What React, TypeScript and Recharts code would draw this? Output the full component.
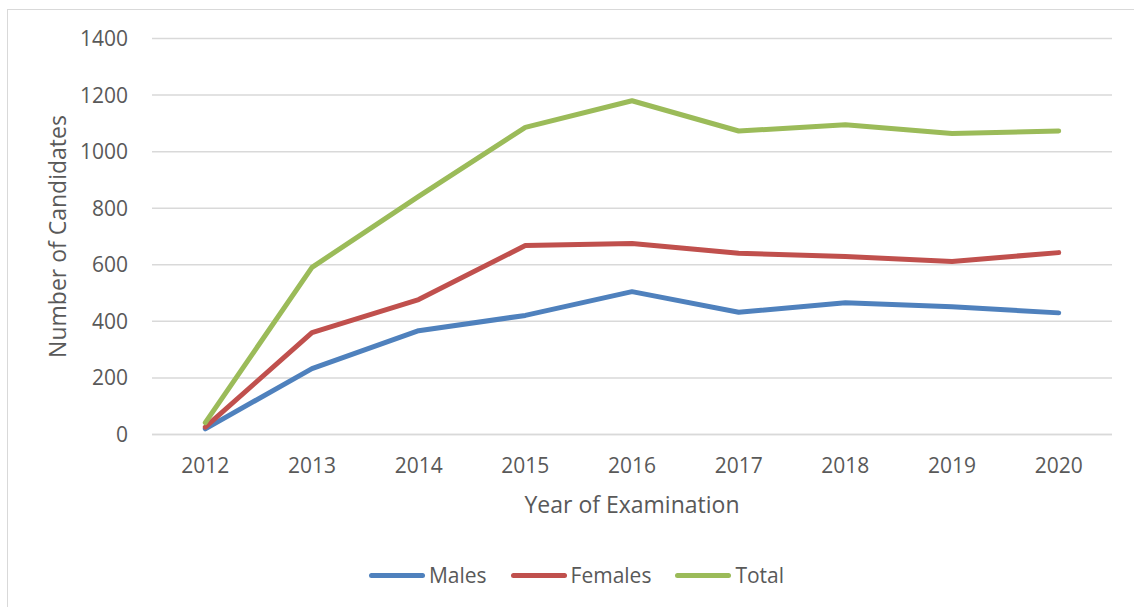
import React from 'react';
import { LineChart, Line, XAxis, YAxis, CartesianGrid, Legend } from 'recharts';

const years = ['2012', '2013', '2014', '2015', '2016', '2017', '2018', '2019', '2020'];
const males = [20, 233, 367, 421, 505, 432, 466, 452, 430];
const females = [26, 360, 477, 668, 675, 641, 629, 612, 643];
const totals = [42, 591, 842, 1086, 1180, 1073, 1095, 1064, 1073];
const yTicks = [0, 200, 400, 600, 800, 1000, 1200, 1400];

const series = [
  { key: 'Males', color: '#4f81bd' },
  { key: 'Females', color: '#c0504d' },
  { key: 'Total', color: '#9bbb59' },
];

const data = years.map((year, i) => ({
  year,
  Males: males[i],
  Females: females[i],
  Total: totals[i],
}));

const FONT = '"Open Sans", sans-serif';
const TEXT = '#595959';

const LegendContent = () => (
  <div style={{ display: 'flex', justifyContent: 'center', gap: 24, paddingLeft: 19, height: 30, alignItems: 'center', fontFamily: FONT, fontSize: 21, color: TEXT }}>
    {series.map((s) => (
      <div key={s.key} style={{ display: 'flex', alignItems: 'center' }}>
        <div style={{ width: 56, height: 5, borderRadius: 3, background: s.color, marginRight: 4 }} />
        <span>{s.key}</span>
      </div>
    ))}
  </div>
);

export default function App() {
  return (
    <div style={{ position: 'absolute', left: 0, top: 0, width: 1134, height: 607, background: '#fff', overflow: 'hidden' }}>
      <div style={{ position: 'absolute', left: 7, top: 9, width: 1160, height: 640, border: '1px solid #d9d9d9' }} />
      <div style={{ position: 'absolute', left: 0, top: 0 }}>
        <LineChart width={1134} height={607} data={data} margin={{ top: 38.5, right: 22, left: 0, bottom: 52.5 }}>
          <CartesianGrid vertical={false} stroke="#d9d9d9" strokeWidth={1.5} />
          <XAxis
            dataKey="year"
            height={90}
            padding={{ left: 53.3, right: 53.3 }}
            axisLine={{ stroke: '#d9d9d9', strokeWidth: 1.5 }}
            tickLine={false}
            tickSize={0}
            tickMargin={24}
            tick={{ fill: TEXT, fontSize: 21, fontFamily: FONT }}
            label={{ value: 'Year of Examination', position: 'center', dy: 25, fill: TEXT, fontSize: 23, fontFamily: FONT }}
          />
          <YAxis
            width={152}
            domain={[0, 1400]}
            ticks={yTicks}
            axisLine={false}
            tickLine={false}
            tickSize={0}
            tickMargin={24}
            tick={{ fill: TEXT, fontSize: 21, fontFamily: FONT }}
            label={{ value: 'Number of Candidates', angle: -90, position: 'center', dx: -18, fill: TEXT, fontSize: 23, fontFamily: FONT }}
          />
          <Legend
            verticalAlign="bottom"
            content={<LegendContent />}
            wrapperStyle={{ top: 560, bottom: 'auto', left: 0, width: 1134, height: 30 }}
          />
          {series.map((s) => (
            <Line
              key={s.key}
              type="linear"
              dataKey={s.key}
              stroke={s.color}
              strokeWidth={5}
              strokeLinecap="round"
              strokeLinejoin="round"
              dot={false}
              activeDot={false}
              isAnimationActive={false}
            />
          ))}
        </LineChart>
      </div>
    </div>
  );
}
